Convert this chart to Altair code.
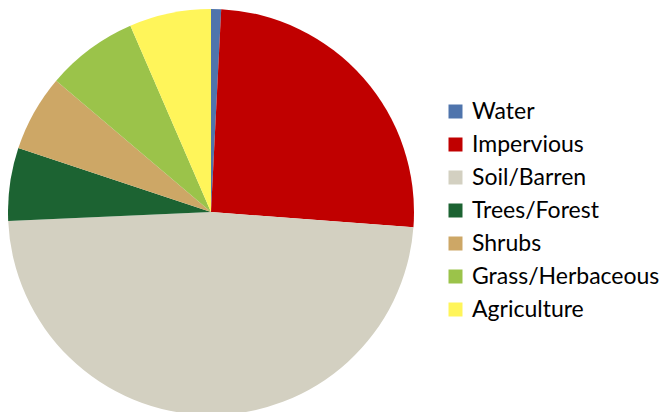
import altair as alt
import pandas as pd

categories = ["Water", "Impervious", "Soil/Barren", "Trees/Forest", "Shrubs", "Grass/Herbaceous", "Agriculture"]
values = [0.8, 25.4, 48.1, 5.8, 6.1, 7.3, 6.5]
colors = ["#4F74AC", "#C00000", "#D3D0C1", "#1C6332", "#CDA766", "#9BC34A", "#FFF55A"]

df = pd.DataFrame({"category": categories, "value": values, "order": list(range(len(categories)))})

chart = alt.Chart(df).mark_arc(outerRadius=203).encode(
    theta=alt.Theta("value:Q", stack=True),
    order=alt.Order("order:Q"),
    x=alt.value(203),
    y=alt.value(204),
    color=alt.Color(
        "category:N",
        sort=categories,
        scale=alt.Scale(domain=categories, range=colors),
        legend=alt.Legend(
            title=None,
            orient="none",
            legendX=436,
            legendY=92,
            symbolType="square",
            symbolSize=196,
            symbolStrokeWidth=0,
            labelFont="Lato",
            labelFontSize=23,
            labelColor="#000000",
            rowPadding=9,
            labelOffset=5,
            labelLimit=300,
            padding=0,
        ),
    ),
).properties(width=654, height=396, padding=0).configure_view(stroke=None)

chart.save("out.html", embed_options={"renderer": "svg", "actions": False})
